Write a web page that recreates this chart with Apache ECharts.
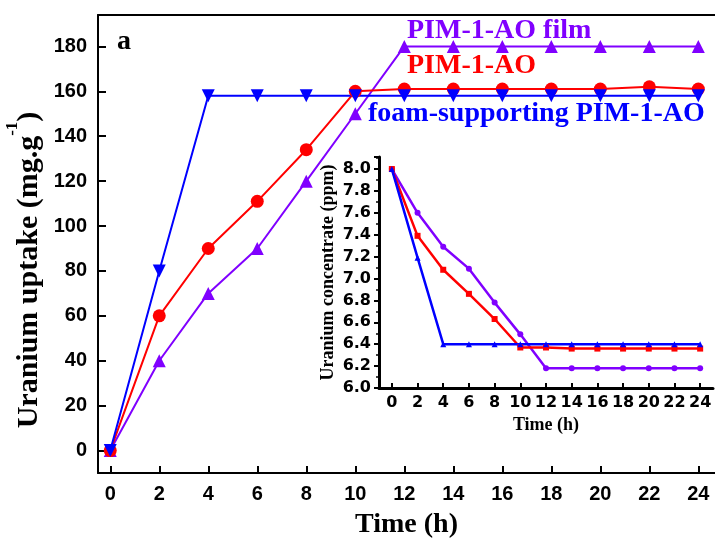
<!DOCTYPE html>
<html>
<head>
<meta charset="utf-8">
<script src="https://cdn.jsdelivr.net/npm/echarts@6/dist/echarts.min.js"></script>
<style>
  html, body { margin: 0; padding: 0; background: #fff; }
  #myChart { width: 715px; height: 544px; }
</style>
</head>
<body>
<div id="myChart"></div>
<script>
let myChart = echarts.init(document.getElementById('myChart'));

// time points (h), shared by both panels
const hours = [0, 2, 4, 6, 8, 10, 12, 14, 16, 18, 20, 22, 24];

// main panel: uranium uptake (mg/g)
const uptakeFilm = [0, 40, 70, 90, 120, 150, 180, 180, 180, 180, 180, 180, 180];
const uptakeAO = [0, 60, 90, 111, 134, 160, 161, 161, 161, 161, 161, 162, 161];
const uptakeFoam = [0, 80, 158, 158, 158, 158, 158, 158, 158, 158, 158, 158, 158];

// inset: uranium concentration (ppm)
const concFoam = [8.0, 7.19, 6.4, 6.4, 6.4, 6.4, 6.4, 6.4, 6.4, 6.4, 6.4, 6.4, 6.4];
const concAO = [8.0, 7.39, 7.08, 6.86, 6.63, 6.37, 6.37, 6.36, 6.36, 6.36, 6.36, 6.36, 6.36];
const concFilm = [8.0, 7.6, 7.29, 7.09, 6.78, 6.49, 6.18, 6.18, 6.18, 6.18, 6.18, 6.18, 6.18];

const mainTicksX = [0, 2, 4, 6, 8, 10, 12, 14, 16, 18, 20, 22, 24];
const mainTicksY = [0, 20, 40, 60, 80, 100, 120, 140, 160, 180];

const BLUE = '#0000ff';
const RED = '#ff0000';
const PURPLE = '#8000ff';
const SERIF = '"Liberation Serif", "Times New Roman", serif';
const SANS = '"Liberation Sans", Arial, sans-serif';

function pairs(ys) {
  return hours.map(function (h, i) {
    return [h, ys[i]];
  });
}

function mainLine(name, ys, color, symbol, rotate) {
  return {
    name: name,
    type: 'line',
    xAxisIndex: 0,
    yAxisIndex: 0,
    data: pairs(ys),
    symbol: symbol,
    symbolSize: 13,
    symbolRotate: rotate || 0,
    lineStyle: { color: color, width: 2 },
    itemStyle: { color: color },
    animation: false,
  };
}

function insetLine(name, ys, color, symbol) {
  return {
    name: name,
    type: 'line',
    xAxisIndex: 2,
    yAxisIndex: 1,
    data: pairs(ys),
    symbol: symbol,
    symbolSize: 6,
    lineStyle: { color: color, width: 2.5 },
    itemStyle: { color: color },
    z: 5,
    animation: false,
  };
}

let myChartOption = {
  backgroundColor: '#fff',
  grid: [
    {
      left: 98,
      top: 15,
      right: 0,
      bottom: 69,
    },
    {
      left: 379,
      top: 157,
      right: 2,
      bottom: 156,
    },
  ],
  xAxis: [
    {
      type: 'value',
      gridIndex: 0,
      position: 'bottom',
      min: -0.5,
      max: 24.68,
      name: 'Time (h)',
      nameLocation: 'middle',
      nameGap: 38,
      nameTextStyle: { fontFamily: SERIF, fontWeight: 'bold', fontSize: 28, color: '#000' },
      axisLine: { onZero: false, lineStyle: { color: '#000', width: 2 } },
      axisTick: { inside: true, length: 7, customValues: mainTicksX, lineStyle: { width: 2, color: '#000' } },
      axisLabel: { customValues: mainTicksX, margin: 11, fontFamily: SANS, fontWeight: 'bold', fontSize: 20, color: '#000' },
      splitLine: { show: false },
    },
    {
      // top frame line of the main panel
      type: 'value',
      gridIndex: 0,
      position: 'top',
      min: -0.5,
      max: 24.68,
      axisLine: { show: true, onZero: false, lineStyle: { color: '#000', width: 2 } },
      axisTick: { show: false },
      axisLabel: { show: false },
      splitLine: { show: false },
    },
    {
      type: 'value',
      gridIndex: 1,
      min: -1,
      max: 25,
      name: 'Time (h)',
      nameLocation: 'middle',
      nameGap: 28,
      nameTextStyle: { fontFamily: SERIF, fontWeight: 'bold', fontSize: 18, color: '#000' },
      axisLine: { onZero: false, lineStyle: { color: '#000', width: 3 } },
      axisTick: { inside: true, length: 5, customValues: mainTicksX, lineStyle: { width: 2, color: '#000' } },
      axisLabel: { customValues: mainTicksX, margin: 7, fontFamily: '"DejaVu Sans", sans-serif', fontWeight: 'bold', fontSize: 16, color: '#000' },
      splitLine: { show: false },
    },
  ],
  yAxis: [
    {
      type: 'value',
      gridIndex: 0,
      min: -10,
      max: 194,
      axisLine: { show: true, onZero: false, lineStyle: { color: '#000', width: 2 } },
      axisTick: { show: true, inside: true, length: 8, customValues: mainTicksY, lineStyle: { width: 2, color: '#000' } },
      axisLabel: { customValues: mainTicksY, margin: 11, fontFamily: SANS, fontWeight: 'bold', fontSize: 20, color: '#000' },
      splitLine: { show: false },
    },
    {
      type: 'value',
      gridIndex: 1,
      min: 6,
      max: 8.11,
      interval: 0.2,
      name: 'Uranium concentrate (ppm)',
      nameLocation: 'middle',
      nameGap: 42,
      nameTextStyle: { fontFamily: SERIF, fontWeight: 'bold', fontSize: 18, color: '#000' },
      axisLine: { show: true, onZero: false, lineStyle: { color: '#000', width: 3 } },
      axisTick: { show: true, length: 5, lineStyle: { width: 2, color: '#000' } },
      minorTick: { show: true, splitNumber: 2, length: 3, lineStyle: { width: 1.5, color: '#000' } },
      axisLabel: {
        margin: 8,
        fontFamily: '"DejaVu Sans", sans-serif',
        fontWeight: 'bold',
        fontSize: 16,
        color: '#000',
        formatter: function (v) {
          return v.toFixed(1);
        },
      },
      splitLine: { show: false },
    },
  ],
  graphic: [
    {
      type: 'text',
      x: 29,
      y: 270,
      rotation: Math.PI / 2,
      style: {
        text: 'Uranium uptake (mg.g{sup|-1})',
        fontFamily: SERIF,
        fontWeight: 'bold',
        fontSize: 30,
        lineHeight: 50,
        fill: '#000',
        align: 'center',
        verticalAlign: 'middle',
        rich: {
          sup: { fontFamily: SERIF, fontWeight: 'bold', fontSize: 17, lineHeight: 17, verticalAlign: 'top', fill: '#000' },
        },
      },
    },
    {
      type: 'text',
      x: 117,
      y: 42,
      style: { text: 'a', fontFamily: SERIF, fontWeight: 'bold', fontSize: 28, fill: '#000', verticalAlign: 'middle' },
    },
    {
      type: 'text',
      x: 407,
      y: 31,
      style: { text: 'PIM-1-AO film', fontFamily: SERIF, fontWeight: 'bold', fontSize: 28, fill: PURPLE, verticalAlign: 'middle' },
    },
    {
      type: 'text',
      x: 407,
      y: 66,
      style: { text: 'PIM-1-AO', fontFamily: SERIF, fontWeight: 'bold', fontSize: 28, fill: RED, verticalAlign: 'middle' },
    },
    {
      type: 'text',
      x: 368,
      y: 114,
      style: { text: 'foam-supporting PIM-1-AO', fontFamily: SERIF, fontWeight: 'bold', fontSize: 28, fill: BLUE, verticalAlign: 'middle' },
    },
  ],
  series: [
    mainLine('PIM-1-AO film', uptakeFilm, PURPLE, 'triangle'),
    mainLine('PIM-1-AO', uptakeAO, RED, 'circle'),
    mainLine('foam-supporting PIM-1-AO', uptakeFoam, BLUE, 'triangle', 180),
    insetLine('PIM-1-AO film', concFilm, PURPLE, 'circle'),
    insetLine('PIM-1-AO', concAO, RED, 'rect'),
    insetLine('foam-supporting PIM-1-AO', concFoam, BLUE, 'triangle'),
  ],
};

myChart.setOption(myChartOption);
</script>
</body>
</html>
